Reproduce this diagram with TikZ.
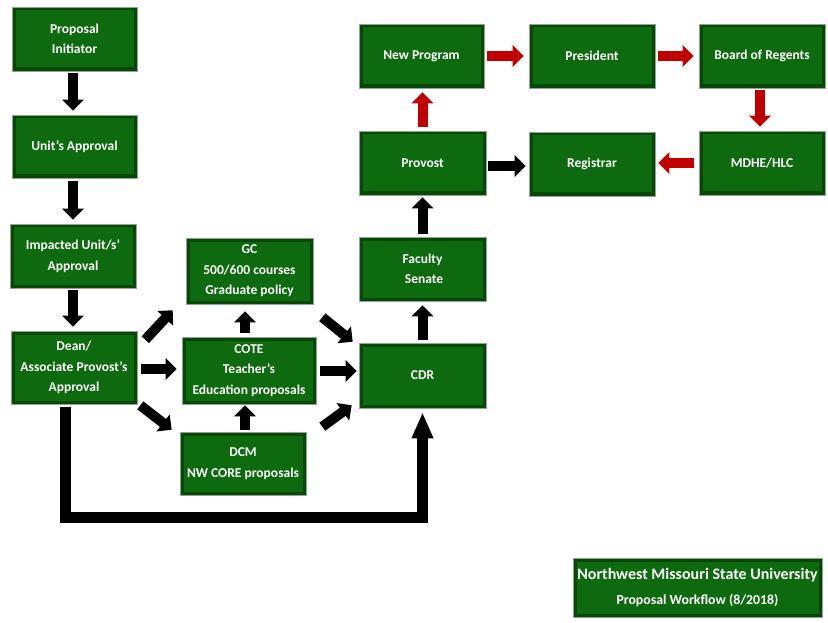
\documentclass[tikz,border=0pt]{standalone}
\usepackage{fontspec}
\setmainfont{Carlito}
\usetikzlibrary{arrows.meta,calc}
\definecolor{boxedge}{RGB}{6,72,6}
\definecolor{boxmid}{RGB}{14,106,14}
\definecolor{boxline}{RGB}{150,160,150}
\definecolor{arrred}{RGB}{192,0,0}
\tikzset{
 box/.style={draw=boxline, line width=0.6pt, fill=boxedge, text=white,
   font=\bfseries\fontsize{13.5}{20.5}\selectfont, align=center, inner sep=0pt,
   path picture={\fill[boxmid] ([shift={(3.5pt,-3.5pt)}]path picture bounding box.north west) rectangle ([shift={(-3.5pt,3.5pt)}]path picture bounding box.south east);}},
 blk/.style={draw=black, line width=10pt, -{Triangle[width=21pt,length=11pt]}},
 redblk/.style={blk, draw=arrred},
}
\begin{document}
\begin{tikzpicture}[x=1pt,y=1pt]
\useasboundingbox (0,0) rectangle (828,-623);
\fill[white] (0,0) rectangle (828,-623);
% boxes
\node[box, minimum width=125pt, minimum height=64pt] (init) at (74.5,-39) {Proposal\\Initiator};
\node[box, minimum width=125pt, minimum height=63pt] (unit) at (74.5,-146.5) {Unit’s Approval};
\node[box, minimum width=126pt, minimum height=64pt] (impact) at (73,-256) {Impacted Unit/s’\\Approval};
\node[box, minimum width=126pt, minimum height=73pt] (dean) at (74,-367.5) {Dean/\\Associate Provost’s\\Approval};
\node[box, minimum width=127pt, minimum height=66pt] (gc) at (249.5,-271) {GC\\500/600 courses\\Graduate policy};
\node[box, minimum width=134pt, minimum height=67pt] (cote) at (249,-370.5) {COTE\\Teacher’s\\Education proposals};
\node[box, minimum width=126pt, minimum height=63pt] (dcm) at (243,-463.5) {DCM\\NW CORE proposals};
\node[box, minimum width=127pt, minimum height=65pt] (cdr) at (422.5,-375.5) {CDR};
\node[box, minimum width=127pt, minimum height=64pt] (senate) at (422.5,-269) {Faculty\\\hspace*{3pt}Senate};
\node[box, minimum width=127pt, minimum height=64pt] (provost) at (422.5,-163) {Provost};
\node[box, minimum width=125pt, minimum height=64pt] (newprog) at (421.5,-56) {New Program};
\node[box, minimum width=126pt, minimum height=64pt] (president) at (592,-56) {President};
\node[box, minimum width=126pt, minimum height=64pt] (regents) at (762,-56) {Board of Regents};
\node[box, minimum width=126pt, minimum height=64pt] (registrar) at (592,-164) {Registrar};
\node[box, minimum width=126pt, minimum height=64pt] (mdhe) at (762,-163) {MDHE/HLC};
\node[box, minimum width=249pt, minimum height=59pt] (title) at (697.5,-587.5)
  {{\fontsize{16}{22}\selectfont Northwest Missouri State University}\\[4pt]{\fontsize{13.8}{22}\selectfont Proposal Workflow (8/2018)}};
% left column
\draw[blk] ([shift={(-1.5pt,-2pt)}]init.south) -- ([shift={(-1.5pt,4pt)}]unit.north);
\draw[blk] ([shift={(-1.5pt,-3pt)}]unit.south) -- ([shift={(0pt,4pt)}]impact.north);
\draw[blk] ([shift={(0pt,-2pt)}]impact.south) -- ([shift={(-1pt,4pt)}]dean.north);
% fan out
\draw[blk] ([shift={(8pt,-9pt)}]dean.north east) -- ([shift={(-13pt,-6pt)}]gc.south west);
\draw[blk] ([shift={(4pt,-1.5pt)}]dean.east) -- ([shift={(-5pt,1.5pt)}]cote.west);
\draw[blk] ([shift={(3pt,-1pt)}]dean.south east) -- ([shift={(-8pt,2pt)}]dcm.north west);
\draw[blk] ([shift={(-4pt,4pt)}]cote.north) -- ([shift={(-4.5pt,-7pt)}]gc.south);
\draw[blk] ([shift={(2pt,2pt)}]dcm.north) -- ([shift={(-4pt,-1pt)}]cote.south);
% fan in
\draw[blk] ([shift={(9pt,-13pt)}]gc.south east) -- ([shift={(-6pt,1pt)}]cdr.north west);
\draw[blk] ([shift={(4pt,-0.5pt)}]cote.east) -- ([shift={(-2pt,4.5pt)}]cdr.west);
\draw[blk] ([shift={(16pt,5pt)}]dcm.north east) -- ([shift={(-7pt,3pt)}]cdr.south west);
% L connector
\draw[draw=black, line width=11pt, line join=miter, -{Triangle[width=20pt,length=26pt]}]
  ([shift={(-8.5pt,-3pt)}]dean.south) -- ++(0,-110) -| ([yshift=-4pt]cdr.south);
% right column
\draw[blk] ([yshift=3pt]cdr.north) -- ([yshift=-4pt]senate.south);
\draw[blk] ([yshift=3pt]senate.north) -- ([yshift=-2pt]provost.south);
\draw[redblk] ([yshift=4pt]provost.north) -- ($(provost.north |- newprog.south)+(0,-4)$);
\draw[redblk] ([xshift=3pt]newprog.east) -- ([xshift=-5pt]president.west);
\draw[redblk] ([xshift=3pt]president.east) -- ([xshift=-5pt]regents.west);
\draw[redblk] ([shift={(-2pt,-2pt)}]regents.south) -- ([shift={(-2pt,4pt)}]mdhe.north);
\draw[redblk] ([xshift=-5pt]mdhe.west) -- ($(registrar.east |- mdhe.west)+(3,0)$);
\draw[blk] ([shift={(2pt,-3pt)}]provost.east) -- ([shift={(-3pt,-2pt)}]registrar.west);
\end{tikzpicture}
\end{document}
